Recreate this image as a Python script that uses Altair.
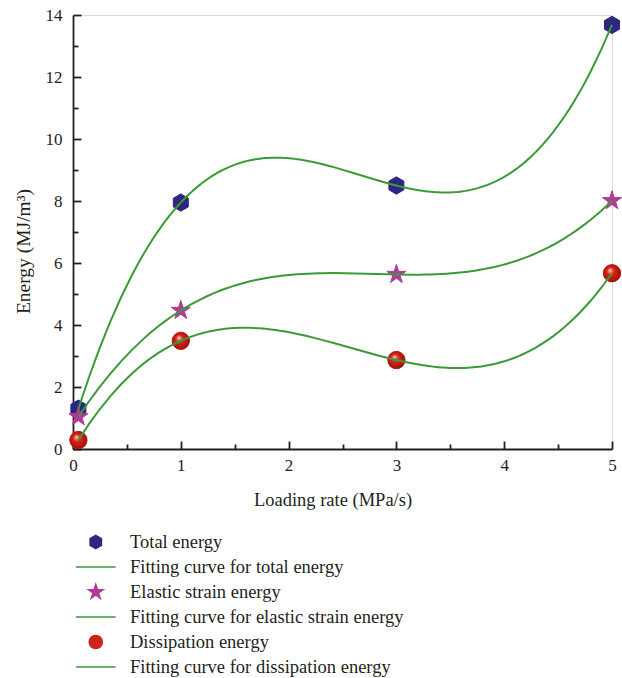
import altair as alt
import pandas as pd

# ---- data ----
rates = [0.05, 1, 3, 5]
total_energy = [1.30, 7.95, 8.50, 13.68]
elastic_energy = [1.04, 4.47, 5.63, 8.01]
dissipation_energy = [0.29, 3.49, 2.87, 5.67]

point_labels = ["Total energy", "Elastic strain energy", "Dissipation energy"]
fit_labels = [
    "Fitting curve for total energy",
    "Fitting curve for elastic strain energy",
    "Fitting curve for dissipation energy",
]
legend_order = [point_labels[0], fit_labels[0], point_labels[1], fit_labels[1],
                point_labels[2], fit_labels[2]]

x_ticks = [0, 1, 2, 3, 4, 5]
x_minor = [0.5, 1.5, 2.5, 3.5, 4.5]
y_ticks = [0, 2, 4, 6, 8, 10, 12, 14]
y_minor = [1, 3, 5, 7, 9, 11, 13]

rows = []
for series, lab, fit in zip([total_energy, elastic_energy, dissipation_energy], point_labels, fit_labels):
    for xv, yv in zip(rates, series):
        rows.append({"x": xv, "y": yv, "label": lab, "fit": fit})
df = pd.DataFrame(rows)

# ---- styles ----
NAVY = "#2e2782"
MAG = "#b0399a"
RED = "#cc2418"
GREEN = "#3a9b36"
INK = "#231f20"
SERIF = "Liberation Serif"
HEX = "M0,-1L0.866,-0.5L0.866,0.5L0,1L-0.866,0.5L-0.866,-0.5Z"
STAR = ("M0,-1.15L0.258,-0.355L1.094,-0.355L0.418,0.136L0.676,0.930L0,0.439"
        "L-0.676,0.930L-0.418,0.136L-1.094,-0.355L-0.258,-0.355Z")
LINE = "M-3.05,0H3.05"

W, H = 539, 434

xs = alt.Scale(domain=[0, 5], nice=False, zero=False)
ys = alt.Scale(domain=[0, 14], nice=False)

shape_scale = alt.Scale(domain=legend_order, range=[HEX, LINE, STAR, LINE, "circle", LINE])
fill_scale = alt.Scale(domain=legend_order, range=[NAVY, "transparent", MAG, "transparent", RED, "transparent"])
stroke_scale = alt.Scale(domain=legend_order, range=[NAVY, GREEN, MAG, GREEN, RED, GREEN])

leg = alt.Legend(
    orient="none", legendX=0, legendY=514.5, title=None,
    symbolSize=170, symbolStrokeWidth=1.6, symbolOffset=13.5,
    labelFont=SERIF, labelFontSize=18.5, labelColor=INK, labelOffset=25,
    labelLimit=500, clipHeight=25, rowPadding=0, padding=0,
)

x_main = alt.Axis(orient="bottom", values=x_ticks, format="d", ticks=False, grid=False,
                  domainColor=INK, domainWidth=1.8, labelFlush=False,
                  labelFont=SERIF, labelFontSize=17, labelColor=INK, labelPadding=8,
                  title="Loading rate (MPa/s)", titleFont=SERIF, titleFontSize=18.5,
                  titleFontWeight="normal", titleColor=INK, titlePadding=17, titleX=259.5)
y_main = alt.Axis(orient="left", values=y_ticks, format="d", ticks=False, grid=False,
                  domainColor=INK, domainWidth=1.8, labelFlush=False,
                  labelFont=SERIF, labelFontSize=17, labelColor=INK, labelPadding=11,
                  title="Energy (MJ/m³)", titleFont=SERIF, titleFontSize=19.5,
                  titleFontWeight="normal", titleColor=INK, titlePadding=12, titleY=236)
x_major = alt.Axis(orient="top", offset=-H, values=x_ticks, labels=False, domain=False,
                   ticks=True, tickSize=8, tickWidth=1.8, tickColor=INK, grid=False, title=None)
y_major = alt.Axis(orient="right", offset=-W, values=y_ticks, labels=False, domain=False,
                   ticks=True, tickSize=8, tickWidth=1.8, tickColor=INK, grid=False, title=None)
x_minor_ax = alt.Axis(orient="top", offset=-H, values=x_minor, labels=False, domain=False,
                      ticks=True, tickSize=5, tickWidth=1.8, tickColor=INK, grid=False, title=None)
y_minor_ax = alt.Axis(orient="right", offset=-W, values=y_minor, labels=False, domain=False,
                      ticks=True, tickSize=5, tickWidth=1.8, tickColor=INK, grid=False, title=None)

base = alt.Chart(df)

points = base.mark_point(filled=True, size=300, opacity=1, strokeWidth=1).encode(
    x=alt.X("x:Q", scale=xs, axis=x_major),
    y=alt.Y("y:Q", scale=ys, axis=y_major),
    shape=alt.Shape("label:N", scale=shape_scale, legend=leg),
    fill=alt.Fill("label:N", scale=fill_scale, legend=leg),
    stroke=alt.Stroke("label:N", scale=stroke_scale, legend=leg),
)

sphere_fill = {
    "gradient": "radial",
    "x1": 0.38, "y1": 0.32, "r1": 0,
    "x2": 0.5, "y2": 0.5, "r2": 0.6,
    "stops": [
        {"offset": 0, "color": "#ffffff"},
        {"offset": 0.12, "color": "#f0907f"},
        {"offset": 0.35, "color": "#d8281c"},
        {"offset": 1, "color": "#8f0a05"},
    ],
}
spheres = base.transform_filter(
    alt.datum.label == point_labels[2]
).mark_point(shape="circle", size=300, opacity=1, filled=True, fill=sphere_fill, strokeWidth=0).encode(
    x=alt.X("x:Q", scale=xs, axis=x_minor_ax),
    y=alt.Y("y:Q", scale=ys, axis=y_minor_ax),
)

lines = base.transform_regression(
    "x", "y", groupby=["fit"], method="poly", order=3
).transform_calculate(label="datum.fit").mark_line(strokeWidth=2).encode(
    x=alt.X("x:Q", scale=xs, axis=x_main),
    y=alt.Y("y:Q", scale=ys, axis=y_main),
    stroke=alt.Stroke("label:N", scale=stroke_scale, legend=leg),
)

chart = alt.layer(points, spheres, lines).resolve_axis(
    x="independent", y="independent"
).properties(
    width=W, height=H,
    autosize=alt.AutoSizeParams(type="none"),
    padding={"left": 73, "top": 15, "right": 10, "bottom": 229},
).configure_view(stroke="transparent").configure(background="white")

chart.save("out.html", embed_options={"renderer": "svg", "actions": False})
